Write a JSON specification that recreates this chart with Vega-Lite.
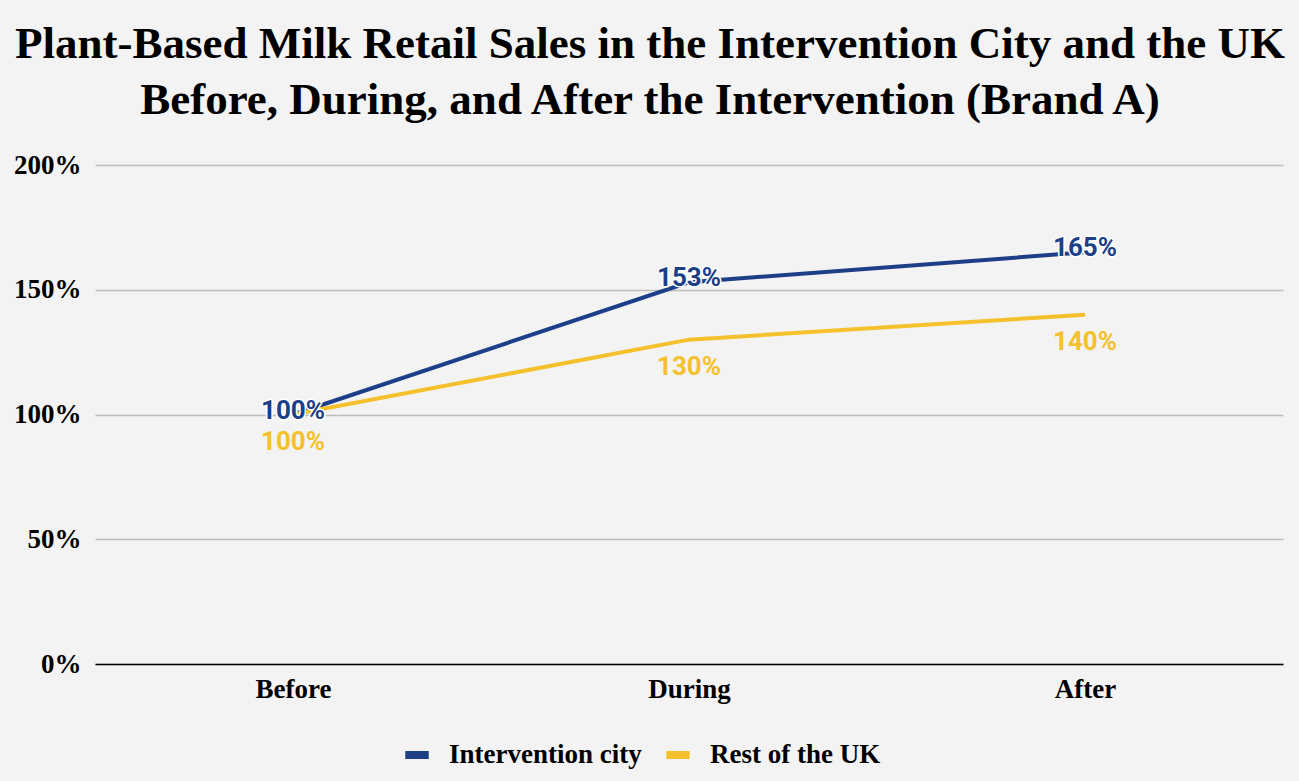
{
  "$schema": "https://vega.github.io/schema/vega-lite/v6.json",
  "width": 1188,
  "height": 499,
  "autosize": "none",
  "padding": {"left": 95, "top": 165, "right": 16, "bottom": 117},
  "background": "#f3f3f3",
  "title": {
    "text": ["Plant-Based Milk Retail Sales in the Intervention City and the UK", "Before, During, and After the Intervention (Brand A)"],
    "font": "Liberation Serif",
    "fontSize": 45,
    "fontWeight": "bold",
    "color": "#000000",
    "anchor": "middle",
    "dx": -39,
    "offset": 28,
    "lineHeight": 56
  },
  "data": {
    "values": [
      {"period": "Before", "series": "Intervention city", "share": 1.00},
      {"period": "During", "series": "Intervention city", "share": 1.53},
      {"period": "After", "series": "Intervention city", "share": 1.65},
      {"period": "Before", "series": "Rest of the UK", "share": 1.00},
      {"period": "During", "series": "Rest of the UK", "share": 1.30},
      {"period": "After", "series": "Rest of the UK", "share": 1.40}
    ]
  },
  "encoding": {
    "x": {
      "field": "period",
      "type": "ordinal",
      "sort": ["Before", "During", "After"],
      "scale": {"type": "point", "padding": 0.5},
      "axis": {
        "title": null,
        "labelAngle": 0,
        "labelFont": "Liberation Serif",
        "labelFontSize": 27,
        "labelFontWeight": "bold",
        "labelColor": "#000000",
        "labelPadding": 12,
        "ticks": false,
        "domainColor": "#000000",
        "domainWidth": 1.5
      }
    },
    "y": {
      "field": "share",
      "type": "quantitative",
      "scale": {"domain": [0, 2]},
      "axis": {
        "title": null,
        "format": ".0%",
        "values": [0, 0.5, 1, 1.5, 2],
        "labelFont": "Liberation Serif",
        "labelFontSize": 27,
        "labelFontWeight": "bold",
        "labelColor": "#000000",
        "labelPadding": 14,
        "labelOverlap": false,
        "ticks": false,
        "domain": false,
        "gridColor": "#bdbdbd",
        "gridWidth": 1.5
      }
    },
    "color": {
      "field": "series",
      "type": "nominal",
      "scale": {"domain": ["Intervention city", "Rest of the UK"], "range": ["#1c3f87", "#f4c12c"]},
      "legend": {
        "title": null,
        "orient": "none",
        "direction": "horizontal",
        "legendX": 306,
        "legendY": 574,
        "symbolType": "stroke",
        "symbolStrokeWidth": 8,
        "symbolSize": 550,
        "labelFont": "Liberation Serif",
        "labelFontSize": 27,
        "labelFontWeight": "bold",
        "labelColor": "#000000",
        "labelOffset": 16,
        "labelLimit": 400,
        "columnPadding": 8
      }
    }
  },
  "layer": [
    {
      "mark": {"type": "line", "strokeWidth": 4}
    },
    {
      "transform": [{"filter": "datum.series === 'Intervention city'"}],
      "mark": {"type": "text", "font": "Roboto", "fontSize": 26, "fontWeight": "bold", "stroke": "#ffffff", "strokeWidth": 3, "strokeJoin": "round", "dy": -4},
      "encoding": {"text": {"field": "share", "type": "quantitative", "format": ".0%"}}
    },
    {
      "transform": [{"filter": "datum.series === 'Intervention city'"}],
      "mark": {"type": "text", "font": "Roboto", "fontSize": 26, "fontWeight": "bold", "dy": -4},
      "encoding": {"text": {"field": "share", "type": "quantitative", "format": ".0%"}}
    },
    {
      "transform": [{"filter": "datum.series === 'Rest of the UK'"}],
      "mark": {"type": "text", "font": "Roboto", "fontSize": 26, "fontWeight": "bold", "dy": 27},
      "encoding": {"text": {"field": "share", "type": "quantitative", "format": ".0%"}}
    }
  ],
  "config": {
    "view": {"stroke": null}
  }
}
